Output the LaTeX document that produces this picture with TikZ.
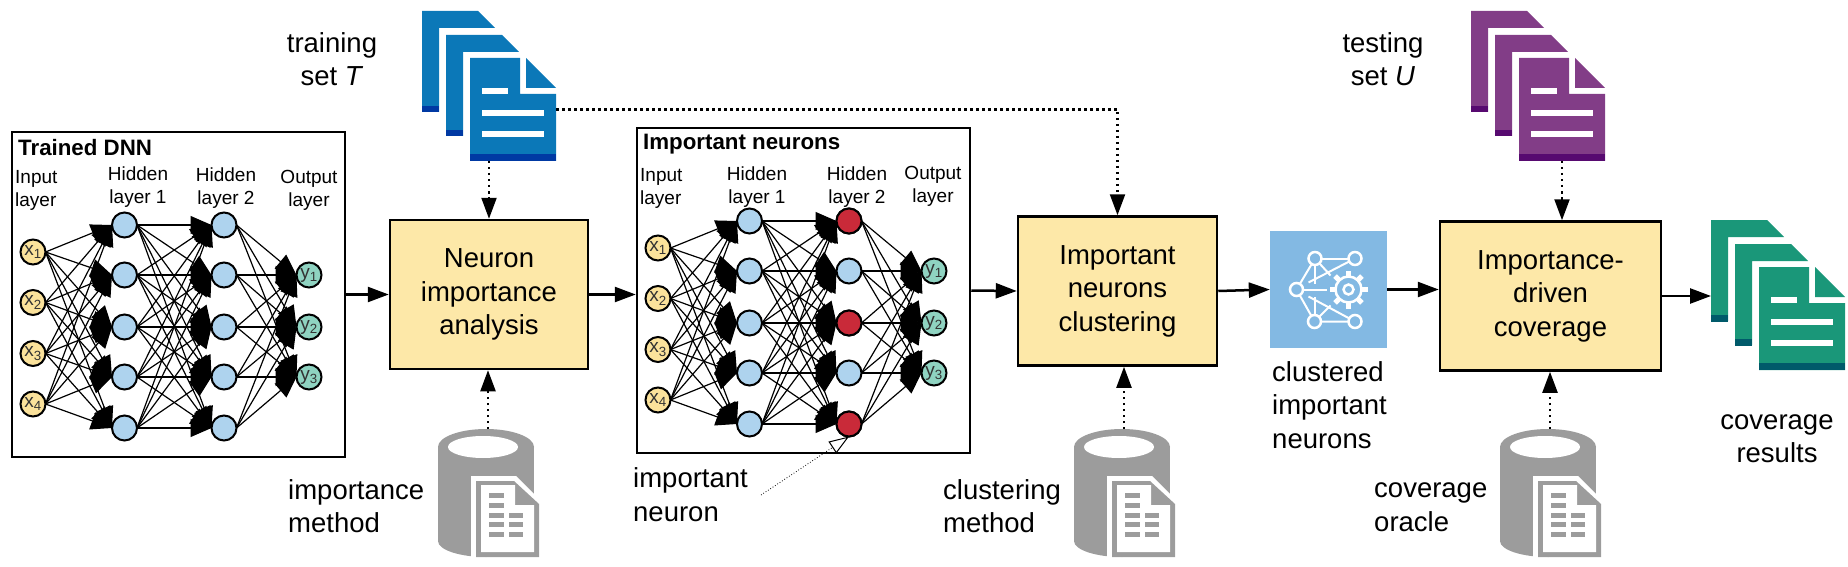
\documentclass[tikz,border=0pt]{standalone}
\usepackage{fontspec}
\setmainfont{Liberation Sans}
\usetikzlibrary{arrows.meta}
\usetikzlibrary{positioning}
\definecolor{boxyellow}{HTML}{FDE8A8}
\definecolor{nnyellow}{HTML}{FBE29B}
\definecolor{nnblue}{HTML}{AED3EE}
\definecolor{nnteal}{HTML}{8FD3C1}
\definecolor{nnred}{HTML}{C92A39}
\definecolor{iconblue}{HTML}{83B9E3}
\definecolor{dbgrey}{HTML}{9C9C9C}
\definecolor{docblue}{HTML}{0B78B8}
\definecolor{docbluedk}{HTML}{0039A3}
\definecolor{docpurple}{HTML}{823D87}
\definecolor{docpurpledk}{HTML}{570A70}
\definecolor{docgreen}{HTML}{1A9779}
\definecolor{docgreendk}{HTML}{005A6A}
\tikzset{
  bigtext/.style = {font=\fontsize{27.5}{33.5}\selectfont, inner sep=0pt},
  nntext/.style = {font=\fontsize{19}{23}\selectfont, inner sep=0pt},
  titletext/.style = {font=\fontsize{22.3}{26}\selectfont\bfseries, inner sep=0pt, anchor=west},
  panelbox/.style = {draw=black, line width=2.5pt, fill=white, minimum width=333pt,
    minimum height=325pt},
  stepbox/.style = {draw=black, line width=2.5pt, fill=boxyellow, align=center,
    bigtext, minimum height=149pt},% yellow processing boxes
  nn_base/.style = {circle, draw=black, line width=2pt, minimum size=25pt, inner sep=0pt,
    outer sep=0pt, text=black!80, font=\fontsize{19}{19}\selectfont},
  nn_i/.style = {nn_base, fill=nnyellow},% input
  nn_h/.style = {nn_base, fill=nnblue},% hidden
  nn_o/.style = {nn_base, fill=nnteal},% output
  nn_r/.style = {nn_base, fill=nnred},% important
  nn_e/.style = {line width=1.2pt, -{Triangle[length=21pt,width=18pt]}},
  mainarrow/.style = {line width=2.5pt, -{Triangle[length=21pt,width=15pt]}},
  dotarrow/.style = {line width=2.2pt, dash pattern=on 2.5pt off 3.5pt,
    -{Triangle[length=21pt,width=15pt]}},
  pagebox/.style = {inner sep=0pt, outer sep=0pt, minimum width=86pt, minimum height=103pt,
    anchor=north west}
}
% stack of three pages: name, position, colour, colour of the lower band
\newcommand{\docstack}[5]{
  \begin{scope}[shift={(#2,#3)}]
    \foreach \ox/\oy in {0/0,24/24} {
      \fill[#4] (\ox,\oy) -- ++(56,0) -- ++(17,17) -- ++(-56,0) -- ++(0,84) -- ++(-17,0) -- cycle;
      \fill[#5] (\ox,\oy+95) rectangle ++(17,6.5);
    }
    \node[pagebox] (#1a) at (0,0) {};
    \node[pagebox] (#1c) at (48,47) {};
    \fill[#4] (48,47) -- (98,47) -- (98,83) -- (134,83) -- (134,150) -- (48,150) -- cycle;
    \fill[#4] (104,47) -- (134,77) -- (104,77) -- cycle;
    \fill[#5] (48,143) rectangle (134,150);
    \fill[white] (60,77) rectangle (86,83);
    \fill[white] (60,99) rectangle (122,105);
    \fill[white] (60,120) rectangle (122,126);
  \end{scope}
}
% database with a small sheet in front of it
\newcommand{\dbicon}[3]{
  \begin{scope}[shift={(#2,#3)}]
    \node[inner sep=0pt, outer sep=0pt, minimum width=100pt, minimum height=128pt] (#1) at (50,64) {};
    \fill[dbgrey] (48,18) ellipse [x radius=48, y radius=18];
    \fill[dbgrey] (0,18) rectangle (96,112);
    \fill[dbgrey] (48,112) ellipse [x radius=48, y radius=16];
    \fill[white] (45,18) ellipse [x radius=35, y radius=11];
    \fill[white] (33,47) -- (78,47) -- (101,70) -- (101,128) -- (33,128) -- cycle;
    \fill[dbgrey] (38,52) -- (76,52) -- (101,75) -- (101,128) -- (38,128) -- cycle;
    \fill[white] (43,56) -- (77,56) -- (77,76) -- (96,76) -- (96,123) -- (43,123) -- cycle;
    \foreach \ry in {64,74,84,93,103}
      \fill[dbgrey] (51,\ry) rectangle ++(15,5);
    \foreach \ry in {84,93,103}
      \fill[dbgrey] (71,\ry) rectangle ++(14,5);
  \end{scope}
}
\begin{document}
\begin{tikzpicture}[x=1pt,y=-1pt]
\useasboundingbox (0,0) rectangle (1848,567);

\node[panelbox] (panela) at (178.5,294.5) {};
\node[panelbox] (panelb) at (803.5,290.5) {};

% both networks
\foreach \pr/\dx/\dy in {a/0/0,b/625/-4} {
  \begin{scope}[shift={(\dx,\dy)}]
    \foreach \i/\yy in {1/252,2/302.5,3/353.5,4/404}
      \node[nn_i] (\pr i\i) at (33,\yy) {x\textsubscript{\i}};
    \foreach \i/\yy in {1/225,2/275,3/327,4/377,5/428} {
      \node[nn_h] (\pr h\i) at (124.5,\yy) {};
      \node[nn_h] (\pr k\i) at (224,\yy) {};
    }
    \foreach \i/\yy in {1/275,2/327,3/377}
      \node[nn_o] (\pr o\i) at (309,\yy) {y\textsubscript{\i}};
    \foreach \i in {1,2,3,4}
      \foreach \j in {1,2,3,4,5}
        \draw[nn_e] (\pr i\i.east) -- (\pr h\j.west);
    \foreach \i in {1,2,3,4,5}
      \foreach \j in {1,2,3,4,5}
        \draw[nn_e] (\pr h\i.east) -- (\pr k\j.west);
    \foreach \i in {1,2,3,4,5}
      \foreach \j in {1,2,3}
        \draw[nn_e] (\pr k\i.east) -- (\pr o\j.west);
  \end{scope}
}
\foreach \i in {1,3,5}
  \node[nn_r] (r\i) at (bk\i) {};

\node[titletext] (ta) at (18,148) {Trained DNN};
\node[titletext] (tb) at (643,144) {Important neurons};

\node[nntext,align=left,anchor=west] (la1) at (15,190.5) {Input\\layer};
\node[nntext,align=center] (la2) at (138,187.5) {Hidden\\layer 1};
\node[nntext,align=center] (la3) at (226,188.5) {Hidden\\layer 2};
\node[nntext,align=center] (la4) at (309,190) {Output\\layer};
\node[nntext,align=left,anchor=west] (lb1) at (640,188.5) {Input\\layer};
\node[nntext,align=center] (lb2) at (757,187.5) {Hidden\\layer 1};
\node[nntext,align=center] (lb3) at (857,187.5) {Hidden\\layer 2};
\node[nntext,align=center] (lb4) at (933,186.5) {Output\\layer};

% main boxes
\node[stepbox, minimum width=198pt] (boxa) at (489,294.5) {Neuron\\importance\\analysis};
\node[stepbox, minimum width=199pt] (boxb) at (1117.5,291) {Important\\neurons\\clustering};
\node[stepbox, minimum width=221pt] (boxc) at (1550.5,296) {Importance-\\driven\\coverage};

\docstack{train}{422}{11}{docblue}{docbluedk}
\docstack{test}{1471}{11}{docpurple}{docpurpledk}
\docstack{cov}{1711}{220}{docgreen}{docgreendk}

\dbicon{dba}{438}{429}
\dbicon{dbb}{1074}{429}
\dbicon{dbc}{1500}{429}

% icon of the clustered neurons
\node[fill=iconblue, inner sep=0pt, minimum size=117pt] (icon) at (1328.5,289.5) {};
\begin{scope}[shift={(icon.center)}, white, line width=2pt]
  \draw (-13.5,-31) -- (26.5,-31);
  \draw (-13.5,-31) -- (-32,0) -- (-14,32) -- (26.5,32);
  \draw (26.5,-31) -- (-20,-7);
  \draw (26.5,32) -- (-20,7);
  \draw (-13.5,-31) -- (-13.5,-6);
  \draw (-14,32) -- (-14,7);
  \draw (-13.5,-31) -- (2,-14);
  \draw (-14,32) -- (2,16);
  \draw (-32,0) -- (-2,0);
  \foreach \cx/\cy in {-13.5/-31,26.5/-31,-32/0,-14/32,26.5/32}
    \draw[fill=iconblue, line width=2.5pt] (\cx,\cy) circle [radius=6.5];
  \foreach \a in {0,45,...,315}
    \draw[line width=5pt] (20,0) ++(\a:13) -- ++(\a:6);
  \draw[fill=iconblue, line width=2.5pt] (20,0) circle [radius=13];
  \draw[line width=2.5pt] (20,0) circle [radius=5];
\end{scope}

% texts
\node[bigtext,align=center] (ltrain) at (332,59) {training\\set \textit{T}};
\node[bigtext,align=center] (ltest) at (1383,59) {testing\\set \textit{U}};
\node[bigtext,align=left,anchor=west] (lmeth) at (288,506) {importance\\method};
\node[bigtext,align=left,anchor=west] (limp) at (633,494.5) {important\\neuron};
\node[bigtext,align=left,anchor=west] (lclu) at (943,506) {clustering\\method};
\node[bigtext,align=left,anchor=west] (lora) at (1374,507) {coverage\\oracle};
\node[bigtext,align=center] (lres) at (1777,438.5) {coverage\\results};
\node[bigtext,align=left,anchor=west] (licon) at (1272,405) {clustered\\important\\neurons};

% connectors
\draw[mainarrow] (panela.east) -- (boxa.west);
\draw[mainarrow] (boxa.east) -- (boxa.east -| panelb.west);
\draw[mainarrow] (panelb.east) -- (boxb.west);
\draw[mainarrow] (boxb.east) -- (icon.west);
\draw[mainarrow] (icon.east) -- (icon.east -| boxc.west);
\draw[mainarrow] (boxc.east) -- (boxc.east -| cova.west);

\draw[dotarrow] (boxa.north |- trainc.south) -- (boxa.north);
\draw[dotarrow] (trainc.east) -| (boxb.north);
\draw[dotarrow] (testc.south) -- (testc.south |- boxc.north);
\draw[dotarrow] (dba.north) -- (dba.north |- boxa.south);
\draw[dotarrow] (dbb.north) -- (dbb.north |- boxb.south);
\draw[dotarrow] (dbc.north) -- (dbc.north |- boxc.south);

\coordinate (free) at (761,495);
\draw[line width=0.8pt, dotted, -{Triangle[length=20pt,width=14pt,fill=white,line width=1pt]}] (free) -- (r5.south);
\end{tikzpicture}
\end{document}
